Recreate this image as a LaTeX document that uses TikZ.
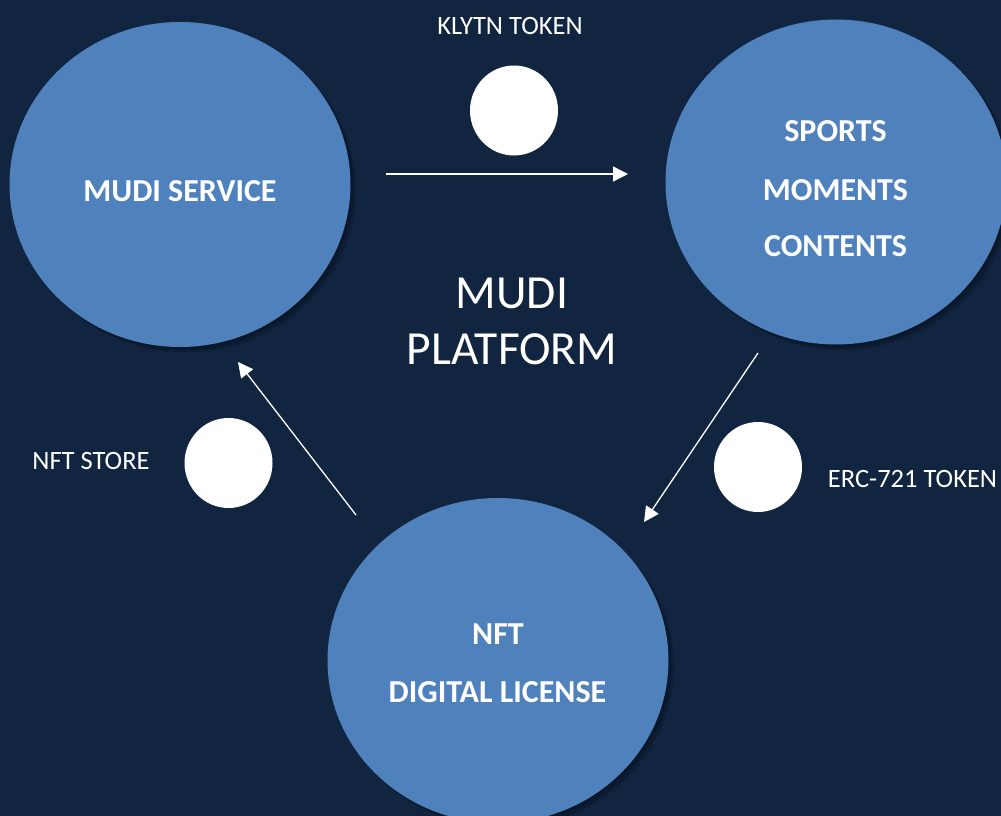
\documentclass[tikz,border=0pt]{standalone}
\usepackage{fontspec}
\setmainfont{Carlito}
\usetikzlibrary{arrows.meta,shapes.geometric}
\definecolor{bgc}{HTML}{112540}
\definecolor{circ}{HTML}{4F81BD}
\tikzset{
  x=1pt,y=-1pt,
  sh/.style={preaction={fill=black,fill opacity=.07,transform canvas={shift={(#1pt,-#1pt)}}}},
  big/.style={ellipse,fill=circ,minimum width=341pt,minimum height=325pt,inner sep=0pt,
     sh=6,sh=5,sh=4,sh=3,sh=2,sh=1},
  dot/.style={ellipse,fill=white,minimum width=88pt,minimum height=90pt,inner sep=0pt},
  lab/.style={text=white,font=\fontsize{26.5}{30}\selectfont,inner sep=0pt,anchor=center},
  boldlab/.style={text=white,font=\fontsize{32}{36}\selectfont\bfseries,inner sep=0pt,anchor=center},
  title/.style={text=white,font=\fontsize{47.5}{50}\selectfont,inner sep=0pt,anchor=center},
  arr/.style={draw=white,line width=1.3pt,-{Triangle[length=15pt,width=15pt]}}
}
\begin{document}
\begin{tikzpicture}
\path[use as bounding box,fill=bgc] (0,0) rectangle (1001,816);
\clip (0,0) rectangle (1001,816);
\node[big] (svc) at (180,184.5) {};
\node[big] (spo) at (836,182) {};
\node[big] (nft) at (498,660.5) {};
\node[boldlab] (t1) at (180,191) {MUDI SERVICE};
\node[boldlab] (t2) at (835.5,131) {SPORTS};
\node[boldlab] (t3) at (835.5,190) {MOMENTS};
\node[boldlab] (t4) at (835.5,246) {CONTENTS};
\node[boldlab] (t5) at (498,634) {NFT};
\node[boldlab] (t6) at (497.5,692) {DIGITAL LICENSE};
\node[title] (p1) at (512,293) {MUDI};
\node[title] (p2) at (512,349) {PLATFORM};
\node[dot] (d1) at (514,110.5) {};
\node[dot] (d2) at (228.5,463) {};
\node[dot] (d3) at (758,467) {};
\node[lab] (l1) at (510,26) {KLYTN TOKEN};
\node[lab] (l2) at (91,460.5) {NFT STORE};
\node[lab] (l3) at (912.5,478.5) {ERC-721 TOKEN};
\coordinate (a1s) at (386,174);
\coordinate (a1e) at (628,174);
\coordinate (a2s) at (758,353);
\coordinate (a2e) at (644,522);
\coordinate (a3s) at (356,515);
\coordinate (a3e) at (238,362);
\draw[arr] (a1s) -- (a1e);
\draw[arr] (a2s) -- (a2e);
\draw[arr] (a3s) -- (a3e);
\end{tikzpicture}
\end{document}
